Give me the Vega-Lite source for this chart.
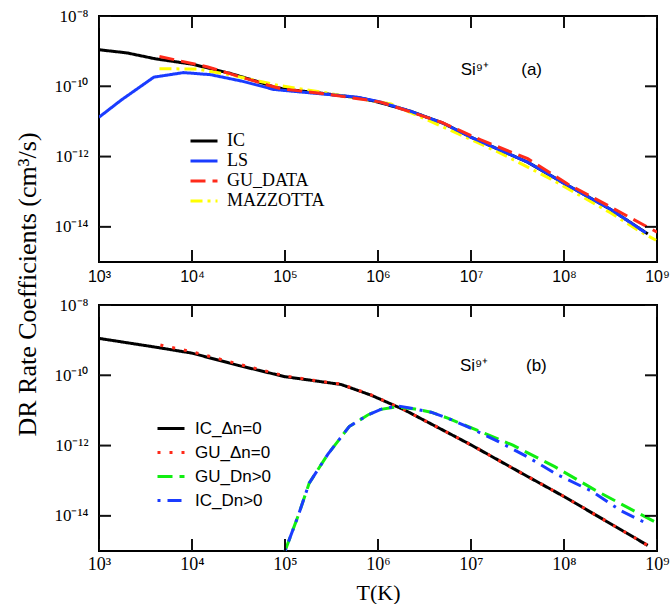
{
  "$schema": "https://vega.github.io/schema/vega-lite/v6.json",
  "background": "white",
  "padding": {"left": 12, "top": 6, "right": 5, "bottom": 0},
  "bounds": "flush",
  "spacing": 43,
  "config": {
    "view": {"stroke": "black", "strokeWidth": 2},
    "axis": {"domain": false, "grid": false, "ticks": false, "tickSize": 0, "labelColor": "black", "titleColor": "black", "titleFontWeight": "normal", "labelFlush": false},
    "text": {"color": "black"},
    "tick": {"color": "#111111", "opacity": 1}
  },
  "resolve": {"scale": {"color": "independent", "strokeDash": "independent"}, "legend": {"color": "independent", "strokeDash": "independent"}},
  "vconcat": [
    {
      "width": 558,
      "height": 246,
      "view": {"stroke": "black", "strokeWidth": 2},
      "layer": [
        {
          "data": {"values": [
            {"series": "IC", "T": 1000, "R": 1.096e-9},
            {"series": "IC", "T": 1995, "R": 8.913e-10},
            {"series": "IC", "T": 4074, "R": 6.026e-10},
            {"series": "IC", "T": 10000, "R": 4.266e-10},
            {"series": "IC", "T": 26303, "R": 2.291e-10},
            {"series": "IC", "T": 50119, "R": 1.380e-10},
            {"series": "IC", "T": 75858, "R": 9.550e-11},
            {"series": "IC", "T": 100000, "R": 8.318e-11},
            {"series": "IC", "T": 251189, "R": 6.310e-11},
            {"series": "IC", "T": 660693, "R": 4.571e-11},
            {"series": "IC", "T": 1000000, "R": 3.548e-11},
            {"series": "IC", "T": 2238721, "R": 1.950e-11},
            {"series": "IC", "T": 5011872, "R": 8.913e-12},
            {"series": "IC", "T": 10000000, "R": 3.548e-12},
            {"series": "IC", "T": 19952623, "R": 1.585e-12},
            {"series": "IC", "T": 40738028, "R": 6.918e-13},
            {"series": "IC", "T": 100000000, "R": 1.738e-13},
            {"series": "IC", "T": 316227766, "R": 3.162e-14},
            {"series": "IC", "T": 794328235, "R": 6.310e-15},
            {"series": "MAZZOTTA", "T": 4467, "R": 3.162e-10},
            {"series": "MAZZOTTA", "T": 11482, "R": 3.090e-10},
            {"series": "MAZZOTTA", "T": 26303, "R": 2.089e-10},
            {"series": "MAZZOTTA", "T": 83176, "R": 1.072e-10},
            {"series": "MAZZOTTA", "T": 251189, "R": 6.761e-11},
            {"series": "MAZZOTTA", "T": 1380384, "R": 3.162e-11},
            {"series": "MAZZOTTA", "T": 6025596, "R": 5.623e-12},
            {"series": "MAZZOTTA", "T": 19952623, "R": 1.318e-12},
            {"series": "MAZZOTTA", "T": 72443596, "R": 2.291e-13},
            {"series": "MAZZOTTA", "T": 316227766, "R": 2.512e-14},
            {"series": "MAZZOTTA", "T": 676082975, "R": 7.079e-15},
            {"series": "MAZZOTTA", "T": 977237221, "R": 4.169e-15},
            {"series": "LS", "T": 1000, "R": 1.318e-11},
            {"series": "LS", "T": 1738, "R": 4.074e-11},
            {"series": "LS", "T": 3890, "R": 1.820e-10},
            {"series": "LS", "T": 8128, "R": 2.455e-10},
            {"series": "LS", "T": 15849, "R": 2.138e-10},
            {"series": "LS", "T": 33884, "R": 1.413e-10},
            {"series": "LS", "T": 75858, "R": 8.128e-11},
            {"series": "LS", "T": 158489, "R": 6.761e-11},
            {"series": "LS", "T": 602560, "R": 4.898e-11},
            {"series": "LS", "T": 1000000, "R": 3.715e-11},
            {"series": "LS", "T": 2238721, "R": 1.950e-11},
            {"series": "LS", "T": 5011872, "R": 8.913e-12},
            {"series": "LS", "T": 10000000, "R": 3.548e-12},
            {"series": "LS", "T": 19952623, "R": 1.585e-12},
            {"series": "LS", "T": 40738028, "R": 6.918e-13},
            {"series": "LS", "T": 100000000, "R": 1.738e-13},
            {"series": "LS", "T": 316227766, "R": 3.162e-14},
            {"series": "LS", "T": 758577575, "R": 6.761e-15},
            {"series": "GU_DATA", "T": 4467, "R": 7.079e-10},
            {"series": "GU_DATA", "T": 14791, "R": 3.548e-10},
            {"series": "GU_DATA", "T": 66069, "R": 1.072e-10},
            {"series": "GU_DATA", "T": 91201, "R": 8.511e-11},
            {"series": "GU_DATA", "T": 263027, "R": 6.166e-11},
            {"series": "GU_DATA", "T": 1071519, "R": 3.548e-11},
            {"series": "GU_DATA", "T": 4786301, "R": 9.550e-12},
            {"series": "GU_DATA", "T": 12589254, "R": 3.020e-12},
            {"series": "GU_DATA", "T": 40738028, "R": 8.710e-13},
            {"series": "GU_DATA", "T": 109647820, "R": 1.660e-13},
            {"series": "GU_DATA", "T": 295120923, "R": 4.074e-14},
            {"series": "GU_DATA", "T": 1000000000, "R": 7.079e-15}
          ]},
          "mark": {"type": "line", "strokeWidth": 3, "clip": true},
          "encoding": {
            "x": {"field": "T", "type": "quantitative", "scale": {"type": "log", "domain": [1000, 1000000000], "nice": false},
              "axis": {"orient": "bottom", "values": [1000, 10000, 100000, 1000000, 10000000, 100000000, 1000000000],
                "labelExpr": "datum.value < 5e3 ? '10³' : datum.value < 5e4 ? '10⁴' : datum.value < 5e5 ? '10⁵' : datum.value < 5e6 ? '10⁶' : datum.value < 5e7 ? '10⁷' : datum.value < 5e8 ? '10⁸' : '10⁹'",
                "labelFont": "Liberation Sans", "labelFontSize": 16, "labelPadding": 6, "title": null}},
            "y": {"field": "R", "type": "quantitative", "scale": {"type": "log", "domain": [1e-15, 1e-8], "nice": false},
              "axis": {"orient": "left", "values": [1e-8, 1e-10, 1e-12, 1e-14],
                "labelExpr": "datum.value > 5e-9 ? '10⁻⁸' : datum.value > 5e-11 ? '10⁻¹⁰' : datum.value > 5e-13 ? '10⁻¹²' : '10⁻¹⁴'",
                "labelFont": "Liberation Serif", "labelFontSize": 17, "labelPadding": 11,
                "title": "DR Rate Coefficients (cm³/s)", "titleFont": "Liberation Serif", "titleFontSize": 26,
                "titleX": -72, "titleY": 268, "titleAngle": 270, "titleBaseline": "middle", "titleAlign": "center"}},
            "color": {"field": "series", "type": "nominal",
              "scale": {"domain": ["IC", "LS", "GU_DATA", "MAZZOTTA"], "range": ["#000000", "#1a3cff", "#ff2a1a", "#ffff00"]},
              "legend": {"orient": "none", "legendX": 90, "legendY": 116, "title": null, "symbolType": "stroke", "symbolSize": 729, "symbolStrokeWidth": 3,
                "labelFont": "Liberation Serif", "labelFontSize": 18, "labelOffset": 8, "clipHeight": 18, "rowPadding": 2, "padding": 0, "labelColor": "black"}},
            "strokeDash": {"field": "series", "type": "nominal",
              "scale": {"domain": ["IC", "LS", "GU_DATA", "MAZZOTTA"], "range": [[1, 0], [1, 0], [15, 7], [12, 5, 3, 5]]}}
          }
        },
        {
          "data": {"values": [
            {"T": 1000, "R": 1e-15}, {"T": 10000, "R": 1e-15}, {"T": 100000, "R": 1e-15}, {"T": 1000000, "R": 1e-15}, {"T": 10000000, "R": 1e-15}, {"T": 100000000, "R": 1e-15}, {"T": 1000000000, "R": 1e-15},
            {"T": 1000, "R": 1e-8}, {"T": 10000, "R": 1e-8}, {"T": 100000, "R": 1e-8}, {"T": 1000000, "R": 1e-8}, {"T": 10000000, "R": 1e-8}, {"T": 100000000, "R": 1e-8}, {"T": 1000000000, "R": 1e-8}
          ]},
          "mark": {"type": "tick", "orient": "vertical", "size": 24, "thickness": 2, "clip": true},
          "encoding": {
            "x": {"field": "T", "type": "quantitative"},
            "y": {"field": "R", "type": "quantitative"}
          }
        },
        {
          "data": {"values": [
            {"T": 1000, "R": 1e-8}, {"T": 1000, "R": 1e-10}, {"T": 1000, "R": 1e-12}, {"T": 1000, "R": 1e-14},
            {"T": 1000000000, "R": 1e-8}, {"T": 1000000000, "R": 1e-10}, {"T": 1000000000, "R": 1e-12}, {"T": 1000000000, "R": 1e-14}
          ]},
          "mark": {"type": "tick", "orient": "horizontal", "size": 24, "thickness": 2, "clip": true},
          "encoding": {
            "x": {"field": "T", "type": "quantitative"},
            "y": {"field": "R", "type": "quantitative"}
          }
        },
        {
          "data": {"values": [
            {"T": 7760000, "R": 2.9e-10, "label": "Si⁹⁺"},
            {"T": 34700000, "R": 2.9e-10, "label": "(a)"}
          ]},
          "mark": {"type": "text", "align": "left", "baseline": "middle", "font": "Liberation Sans", "fontSize": 17},
          "encoding": {
            "x": {"field": "T", "type": "quantitative"},
            "y": {"field": "R", "type": "quantitative"},
            "text": {"field": "label"}
          }
        }
      ]
    },
    {
      "width": 558,
      "height": 246,
      "view": {"stroke": "black", "strokeWidth": 2},
      "layer": [
        {
          "data": {"values": [
            {"series": "IC_Δn=0", "T": 1000, "R": 1.122e-9},
            {"series": "IC_Δn=0", "T": 4074, "R": 6.310e-10},
            {"series": "IC_Δn=0", "T": 10000, "R": 4.266e-10},
            {"series": "IC_Δn=0", "T": 31623, "R": 1.905e-10},
            {"series": "IC_Δn=0", "T": 100000, "R": 9.120e-11},
            {"series": "IC_Δn=0", "T": 199526, "R": 7.079e-11},
            {"series": "IC_Δn=0", "T": 398107, "R": 5.495e-11},
            {"series": "IC_Δn=0", "T": 831764, "R": 2.754e-11},
            {"series": "IC_Δn=0", "T": 1905461, "R": 1.047e-11},
            {"series": "IC_Δn=0", "T": 10000000, "R": 1.047e-12},
            {"series": "IC_Δn=0", "T": 34673685, "R": 1.660e-13},
            {"series": "IC_Δn=0", "T": 100000000, "R": 3.548e-14},
            {"series": "IC_Δn=0", "T": 794328235, "R": 1.445e-15},
            {"series": "GU_Δn=0", "T": 4571, "R": 7.244e-10},
            {"series": "GU_Δn=0", "T": 10000, "R": 4.677e-10},
            {"series": "GU_Δn=0", "T": 31623, "R": 2.089e-10},
            {"series": "GU_Δn=0", "T": 100000, "R": 9.550e-11},
            {"series": "GU_Δn=0", "T": 199526, "R": 7.244e-11},
            {"series": "GU_Δn=0", "T": 398107, "R": 5.623e-11},
            {"series": "GU_Δn=0", "T": 831764, "R": 2.818e-11},
            {"series": "GU_Δn=0", "T": 1905461, "R": 1.047e-11},
            {"series": "GU_Δn=0", "T": 10000000, "R": 1.047e-12},
            {"series": "GU_Δn=0", "T": 34673685, "R": 1.660e-13},
            {"series": "GU_Δn=0", "T": 100000000, "R": 3.548e-14},
            {"series": "GU_Δn=0", "T": 794328235, "R": 1.445e-15},
            {"series": "GU_Dn>0", "T": 100000, "R": 1.0e-15},
            {"series": "GU_Dn>0", "T": 138038, "R": 9.772e-15},
            {"series": "GU_Dn>0", "T": 181970, "R": 8.511e-14},
            {"series": "GU_Dn>0", "T": 288403, "R": 5.623e-13},
            {"series": "GU_Dn>0", "T": 489779, "R": 3.467e-12},
            {"series": "GU_Dn>0", "T": 776247, "R": 7.413e-12},
            {"series": "GU_Dn>0", "T": 1071519, "R": 1.072e-11},
            {"series": "GU_Dn>0", "T": 1584893, "R": 1.259e-11},
            {"series": "GU_Dn>0", "T": 2511886, "R": 1.096e-11},
            {"series": "GU_Dn>0", "T": 3715352, "R": 8.913e-12},
            {"series": "GU_Dn>0", "T": 5623413, "R": 6.026e-12},
            {"series": "GU_Dn>0", "T": 15135612, "R": 2.042e-12},
            {"series": "GU_Dn>0", "T": 28183829, "R": 1.023e-12},
            {"series": "GU_Dn>0", "T": 79432823, "R": 2.512e-13},
            {"series": "GU_Dn>0", "T": 213796209, "R": 5.495e-14},
            {"series": "GU_Dn>0", "T": 575439937, "R": 1.349e-14},
            {"series": "GU_Dn>0", "T": 1000000000, "R": 6.310e-15},
            {"series": "IC_Dn>0", "T": 100000, "R": 1.0e-15},
            {"series": "IC_Dn>0", "T": 138038, "R": 9.772e-15},
            {"series": "IC_Dn>0", "T": 181970, "R": 8.511e-14},
            {"series": "IC_Dn>0", "T": 288403, "R": 5.623e-13},
            {"series": "IC_Dn>0", "T": 489779, "R": 3.467e-12},
            {"series": "IC_Dn>0", "T": 776247, "R": 7.413e-12},
            {"series": "IC_Dn>0", "T": 1071519, "R": 1.072e-11},
            {"series": "IC_Dn>0", "T": 1621810, "R": 1.349e-11},
            {"series": "IC_Dn>0", "T": 2511886, "R": 1.096e-11},
            {"series": "IC_Dn>0", "T": 3715352, "R": 8.913e-12},
            {"series": "IC_Dn>0", "T": 5623413, "R": 6.026e-12},
            {"series": "IC_Dn>0", "T": 9120108, "R": 3.467e-12},
            {"series": "IC_Dn>0", "T": 19498446, "R": 1.318e-12},
            {"series": "IC_Dn>0", "T": 39810717, "R": 4.898e-13},
            {"series": "IC_Dn>0", "T": 85113804, "R": 1.479e-13},
            {"series": "IC_Dn>0", "T": 199526231, "R": 5.012e-14},
            {"series": "IC_Dn>0", "T": 407380278, "R": 1.413e-14},
            {"series": "IC_Dn>0", "T": 794328235, "R": 5.888e-15}
          ]},
          "mark": {"type": "line", "strokeWidth": 3, "clip": true},
          "encoding": {
            "x": {"field": "T", "type": "quantitative", "scale": {"type": "log", "domain": [1000, 1000000000], "nice": false},
              "axis": {"orient": "bottom", "values": [1000, 10000, 100000, 1000000, 10000000, 100000000, 1000000000],
                "labelExpr": "datum.value < 5e3 ? '10³' : datum.value < 5e4 ? '10⁴' : datum.value < 5e5 ? '10⁵' : datum.value < 5e6 ? '10⁶' : datum.value < 5e7 ? '10⁷' : datum.value < 5e8 ? '10⁸' : '10⁹'",
                "labelFont": "Liberation Serif", "labelFontSize": 18, "labelPadding": 4,
                "title": "T(K)", "titleFont": "Liberation Serif", "titleFontSize": 22, "titleY": 41, "titleBaseline": "middle"}},
            "y": {"field": "R", "type": "quantitative", "scale": {"type": "log", "domain": [1e-15, 1e-8], "nice": false},
              "axis": {"orient": "left", "values": [1e-8, 1e-10, 1e-12, 1e-14],
                "labelExpr": "datum.value > 5e-9 ? '10⁻⁸' : datum.value > 5e-11 ? '10⁻¹⁰' : datum.value > 5e-13 ? '10⁻¹²' : '10⁻¹⁴'",
                "labelFont": "Liberation Serif", "labelFontSize": 17, "labelPadding": 11, "title": null}},
            "color": {"field": "series", "type": "nominal",
              "scale": {"domain": ["IC_Δn=0", "GU_Δn=0", "GU_Dn>0", "IC_Dn>0"], "range": ["#000000", "#ff2a1a", "#11ee11", "#1a3cff"]},
              "legend": {"orient": "none", "legendX": 57, "legendY": 115, "title": null, "symbolType": "stroke", "symbolSize": 729, "symbolStrokeWidth": 3,
                "labelFont": "Liberation Sans", "labelFontSize": 17, "labelOffset": 9, "clipHeight": 17, "rowPadding": 6, "padding": 0, "labelColor": "black"}},
            "strokeDash": {"field": "series", "type": "nominal",
              "scale": {"domain": ["IC_Δn=0", "GU_Δn=0", "GU_Dn>0", "IC_Dn>0"], "range": [[1, 0], [3, 9], [15, 7], [3, 7, 14, 7]]}}
          }
        },
        {
          "data": {"values": [
            {"T": 1000, "R": 1e-15}, {"T": 10000, "R": 1e-15}, {"T": 100000, "R": 1e-15}, {"T": 1000000, "R": 1e-15}, {"T": 10000000, "R": 1e-15}, {"T": 100000000, "R": 1e-15}, {"T": 1000000000, "R": 1e-15},
            {"T": 1000, "R": 1e-8}, {"T": 10000, "R": 1e-8}, {"T": 100000, "R": 1e-8}, {"T": 1000000, "R": 1e-8}, {"T": 10000000, "R": 1e-8}, {"T": 100000000, "R": 1e-8}, {"T": 1000000000, "R": 1e-8}
          ]},
          "mark": {"type": "tick", "orient": "vertical", "size": 24, "thickness": 2, "clip": true},
          "encoding": {
            "x": {"field": "T", "type": "quantitative"},
            "y": {"field": "R", "type": "quantitative"}
          }
        },
        {
          "data": {"values": [
            {"T": 1000, "R": 1e-8}, {"T": 1000, "R": 1e-10}, {"T": 1000, "R": 1e-12}, {"T": 1000, "R": 1e-14},
            {"T": 1000000000, "R": 1e-8}, {"T": 1000000000, "R": 1e-10}, {"T": 1000000000, "R": 1e-12}, {"T": 1000000000, "R": 1e-14}
          ]},
          "mark": {"type": "tick", "orient": "horizontal", "size": 24, "thickness": 2, "clip": true},
          "encoding": {
            "x": {"field": "T", "type": "quantitative"},
            "y": {"field": "R", "type": "quantitative"}
          }
        },
        {
          "data": {"values": [
            {"T": 7600000, "R": 1.78e-10, "label": "Si⁹⁺"},
            {"T": 39000000, "R": 1.78e-10, "label": "(b)"}
          ]},
          "mark": {"type": "text", "align": "left", "baseline": "middle", "font": "Liberation Sans", "fontSize": 17},
          "encoding": {
            "x": {"field": "T", "type": "quantitative"},
            "y": {"field": "R", "type": "quantitative"},
            "text": {"field": "label"}
          }
        }
      ]
    }
  ]
}
